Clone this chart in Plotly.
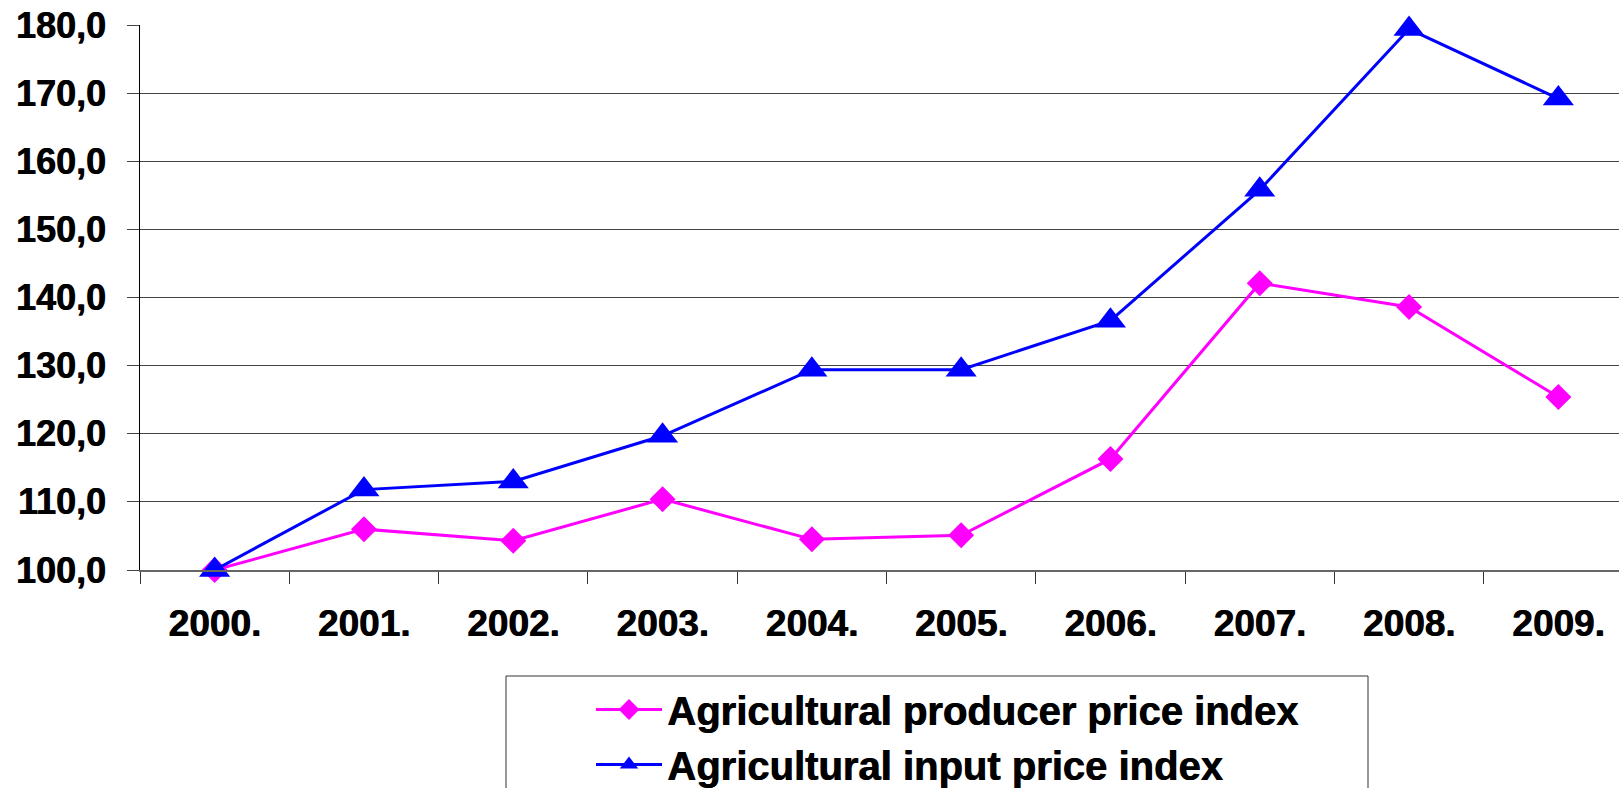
import plotly.graph_objects as go

years = ["2000.", "2001.", "2002.", "2003.", "2004.", "2005.", "2006.", "2007.", "2008.", "2009."]
producer_index = [100.0, 106.0, 104.3, 110.4, 104.5, 105.1, 116.3, 142.1, 138.6, 125.4]
input_index = [100.0, 111.8, 113.0, 119.7, 129.4, 129.4, 136.6, 155.8, 179.4, 169.2]
y_ticks = [100, 110, 120, 130, 140, 150, 160, 170, 180]
y_tick_labels = ["100,0", "110,0", "120,0", "130,0", "140,0", "150,0", "160,0", "170,0", "180,0"]

W, H = 1619, 788
L, R, T, B = 140, 0, 25, 218

fig = go.Figure()
fig.add_trace(go.Scatter(
    x=years, y=producer_index, mode="lines+markers",
    name="Agricultural producer price index",
    line=dict(color="#FF00FF", width=3),
    marker=dict(symbol="diamond", size=20, color="#FF00FF"),
    cliponaxis=False,
))
fig.add_trace(go.Scatter(
    x=years, y=input_index, mode="lines+markers",
    name="Agricultural input price index",
    line=dict(color="#0000FF", width=3),
    marker=dict(symbol="triangle-up", size=27, color="#0000FF"),
    cliponaxis=False,
))

font_bold = dict(family="Liberation Sans, Arial, sans-serif", color="black", weight="bold",
                 shadow="0.8px 0px 0px black")
xmax = -0.5 + (W - L - R) / 149.3

fig.update_layout(
    width=W, height=H,
    margin=dict(l=L, r=R, t=T, b=B, autoexpand=False),
    paper_bgcolor="white", plot_bgcolor="white",
    showlegend=True,
    legend=dict(
        x=(601 - 10 - L) / (W - L - R), xanchor="left",
        y=(H - B - 677) / (H - T - B), yanchor="top",
        font=dict(size=40, **font_bold),
        bgcolor="rgba(0,0,0,0)", borderwidth=0,
        itemwidth=66, tracegroupgap=0,
    ),
    xaxis=dict(
        type="category",
        range=[-0.5, xmax],
        tickfont=dict(size=37, **font_bold),
        showgrid=False, zeroline=False,
        showline=True, linecolor="#666666", linewidth=2,
        ticks="outside", ticklen=12, tickcolor="#333333", tickwidth=1,
        tickson="boundaries",
        ticklabelstandoff=20,
    ),
    yaxis=dict(
        range=[100, 180],
        tickmode="array", tickvals=y_ticks, ticktext=y_tick_labels,
        tickfont=dict(size=36, **font_bold),
        showgrid=True, gridcolor="#444444", gridwidth=1,
        zeroline=False,
        showline=True, linecolor="black", linewidth=1,
        ticks="outside", ticklen=12, tickcolor="#444444", tickwidth=1,
        ticklabelstandoff=14,
    ),
    shapes=[dict(type="rect", xref="paper", yref="paper",
                 x0=(506 - L) / (W - L - R), x1=(1368 - L) / (W - L - R),
                 y0=(H - B - 800) / (H - T - B), y1=(H - B - 676) / (H - T - B),
                 line=dict(color="#333333", width=1), fillcolor="rgba(0,0,0,0)",
                 layer="above")],
)

fig.write_html("out.html")
